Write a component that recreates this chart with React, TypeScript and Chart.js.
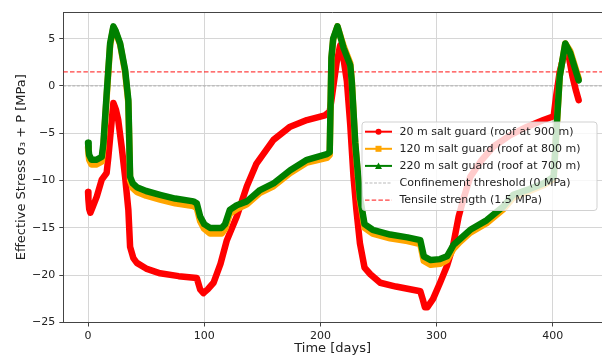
import React, { useEffect, useRef } from 'react';
import Chart from 'chart.js/auto';

// ---- axis ranges / ticks ----
const X_MIN = -21.3;
const X_MAX = 442.4;
const Y_MIN = -25;
const Y_MAX = 7.82;
const X_TICK_STEP = 100;
const Y_TICK_STEP = 5;

// ---- series (day, MPa) ----
const RED_20M: [number, number][] = [
  [0, -11.2], [0.3, -12.0], [1, -13.0], [2, -13.4], [4, -12.8], [7.5, -11.7], [11.8, -9.9], [16, -9.2],
  [17.5, -7.5], [19, -5.5], [21.8, -1.8], [24, -2.5], [26, -3.6], [29, -6.5], [31.9, -9.6], [34.7, -13.1],
  [36.2, -17.0], [39, -18.2], [42, -18.7], [50, -19.3], [62, -19.8], [78, -20.1], [93.6, -20.3], [96.5, -21.5],
  [99.3, -21.9], [103, -21.5], [108, -20.8], [114, -18.8], [119.5, -16.3], [128, -13.8], [136.7, -10.6],
  [145, -8.2], [159.6, -5.7], [174, -4.3], [188.4, -3.6], [204, -3.1], [208, -2.7], [209.5, -1.5], [214, 2.5],
  [217, 4.3], [220, 2.8], [222.8, 0.5], [225.7, -4.1], [228.5, -9.6], [231, -13.1], [234, -16.6],
  [238, -19.2], [243, -19.9], [251.5, -20.8], [265, -21.2], [286, -21.7], [288, -22.5], [290, -23.4],
  [292, -23.4], [297, -22.5], [303, -20.8], [309, -19.0], [314, -17.0], [319, -13.8], [323, -12.0],
  [329, -9.6], [339, -7.8], [349, -6.4], [363.5, -5.2], [378, -4.3], [392, -3.6], [400.8, -3.2], [403, -1.0],
  [406, 1.5], [410.8, 3.8], [414, 3.0], [417, 1.0], [420, -0.5], [422.3, -1.5],
];

const ORANGE_120M: [number, number][] = [
  [0, -6.5], [0.5, -7.3], [1, -7.8], [3, -8.3], [7, -8.3], [11.8, -8.0], [13.2, -6.5], [16.1, -1.0],
  [19, 4.3], [21.8, 6.2], [23.5, 5.8], [27.6, 4.4], [31.9, 1.5], [34.7, -1.8], [36.2, -10.0],
  [38.5, -10.8], [42, -11.2], [50, -11.6], [62, -12.0], [75, -12.4], [90.7, -12.7], [93.6, -12.9],
  [96.5, -14.3], [100, -15.1], [105, -15.6], [115, -15.6], [118, -15.1], [122, -13.5], [128, -13.0],
  [136.7, -12.5], [148, -11.3], [159.6, -10.6], [174, -9.2], [188.4, -8.1], [205.6, -7.6], [208, -7.3],
  [209.5, 2.8], [211, 4.9], [214.7, 6.3], [220, 4.2], [225.7, 2.4], [227, 0.6], [230, -6.2], [234, -12.0],
  [238, -15.0], [245, -15.6], [260, -16.1], [275, -16.4], [286, -16.7], [289, -18.5], [295, -18.9],
  [303, -18.8], [309, -18.4], [314.6, -17.2], [320, -16.5], [329, -15.5], [343, -14.5], [357.7, -13.0],
  [366, -11.8], [380, -11.1], [392, -10.5], [400.8, -9.8], [403, -5.2], [406, 1.0], [410.8, 4.5], [415, 3.7],
  [422.3, 0.8],
];

const GREEN_220M: [number, number][] = [
  [0, -6.0], [0.5, -6.8], [1, -7.3], [3, -7.8], [7, -7.8], [11.8, -7.5], [13.2, -6.1], [16.1, -0.7],
  [19, 4.5], [21.8, 6.3], [23.5, 5.9], [27.6, 4.5], [31.9, 1.7], [34.7, -1.5], [36.2, -9.6],
  [38.5, -10.3], [42, -10.7], [50, -11.1], [62, -11.5], [75, -11.9], [90.7, -12.2], [93.6, -12.4],
  [96.5, -13.8], [100, -14.6], [105, -15.0], [115, -15.0], [118, -14.6], [122, -13.1], [128, -12.6],
  [136.7, -12.2], [148, -11.0], [159.6, -10.3], [174, -8.9], [188.4, -7.8], [205.6, -7.2], [208, -7.0],
  [209.5, 3.0], [211, 5.0], [214.7, 6.3], [220, 4.0], [225.7, 2.2], [227, 0.5], [230, -6.0], [234, -11.7],
  [238, -14.6], [245, -15.2], [260, -15.7], [275, -16.0], [286, -16.3], [289, -18.0], [295, -18.4],
  [303, -18.3], [309, -18.0], [314.6, -16.8], [320, -16.2], [329, -15.2], [343, -14.2], [357.7, -12.7],
  [366, -11.5], [380, -10.9], [392, -10.3], [400.8, -9.6], [403, -5.0], [406, 1.0], [410.8, 4.5], [415, 3.5],
  [422.3, 0.6],
];

const CONFINEMENT_THRESHOLD = 0;
const TENSILE_STRENGTH = 1.5;

const LABELS = [
  '20 m salt guard (roof at 900 m)',
  '120 m salt guard (roof at 800 m)',
  '220 m salt guard (roof at 700 m)',
  'Confinement threshold (0 MPa)',
  'Tensile strength (1.5 MPa)',
];

const X_TITLE = 'Time [days]';
const Y_TITLE = 'Effective Stress σ₃ + P [MPa]';

const FONT = 'DejaVu Sans';
const RED = '#ff0000';
const ORANGE = '#ffa500';
const GREEN = '#008000';
const GRAY_DASH = 'rgba(128,128,128,0.55)';
const RED_DASH = 'rgba(255,0,0,0.75)';

const toPts = (arr: [number, number][]) => arr.map(([x, y]) => ({ x, y }));
const fmt = (v: number) => (v < 0 ? '\u2212' + Math.abs(v) : String(v));

const LEGEND_STYLE = [
  { color: RED, marker: 'circle', dash: [] as number[], width: 2 },
  { color: ORANGE, marker: 'square', dash: [] as number[], width: 2 },
  { color: GREEN, marker: 'triangle', dash: [] as number[], width: 2 },
  { color: GRAY_DASH, marker: '', dash: [3, 1.5], width: 1 },
  { color: RED_DASH, marker: '', dash: [4.5, 2.2], width: 1.3 },
];

const framePlugin = {
  id: 'mplFrame',
  afterDraw(chart: any) {
    const { ctx, chartArea } = chart;
    ctx.save();
    ctx.strokeStyle = '#444';
    ctx.lineWidth = 1;
    ctx.beginPath();
    ctx.moveTo(chartArea.left, chartArea.top + 0.5);
    ctx.lineTo(chartArea.right, chartArea.top + 0.5);
    ctx.stroke();

    // legend
    const x0 = 362, y0 = 122, w = 235, h = 88.5, r = 3;
    ctx.beginPath();
    ctx.moveTo(x0 + r, y0);
    ctx.lineTo(x0 + w - r, y0);
    ctx.arcTo(x0 + w, y0, x0 + w, y0 + r, r);
    ctx.lineTo(x0 + w, y0 + h - r);
    ctx.arcTo(x0 + w, y0 + h, x0 + w - r, y0 + h, r);
    ctx.lineTo(x0 + r, y0 + h);
    ctx.arcTo(x0, y0 + h, x0, y0 + h - r, r);
    ctx.lineTo(x0, y0 + r);
    ctx.arcTo(x0, y0, x0 + r, y0, r);
    ctx.closePath();
    ctx.fillStyle = 'rgba(255,255,255,0.8)';
    ctx.fill();
    ctx.strokeStyle = 'rgba(204,204,204,0.9)';
    ctx.lineWidth = 1;
    ctx.stroke();

    ctx.font = `11px "${FONT}"`;
    ctx.textBaseline = 'middle';
    ctx.textAlign = 'left';
    LABELS.forEach((label, i) => {
      const st = LEGEND_STYLE[i];
      const cy = y0 + 9.7 + i * 17.1;
      ctx.strokeStyle = st.color;
      ctx.lineWidth = st.width;
      ctx.setLineDash(st.dash);
      ctx.beginPath();
      ctx.moveTo(365, cy);
      ctx.lineTo(392, cy);
      ctx.stroke();
      ctx.setLineDash([]);
      const mx = 378.5;
      ctx.fillStyle = st.color;
      if (st.marker === 'circle') {
        ctx.beginPath();
        ctx.arc(mx, cy, 3, 0, Math.PI * 2);
        ctx.fill();
      } else if (st.marker === 'square') {
        ctx.fillRect(mx - 3, cy - 3, 6, 6);
      } else if (st.marker === 'triangle') {
        ctx.beginPath();
        ctx.moveTo(mx, cy - 3.5);
        ctx.lineTo(mx + 3.5, cy + 3);
        ctx.lineTo(mx - 3.5, cy + 3);
        ctx.closePath();
        ctx.fill();
      }
      ctx.fillStyle = '#222';
      ctx.fillText(label, 399.5, cy + 0.5);
    });
    ctx.restore();
  },
};

export default function App() {
  const ref = useRef<HTMLCanvasElement | null>(null);

  useEffect(() => {
    if (!ref.current) return;
    Chart.defaults.font.family = FONT;
    const seriesCommon = {
      borderWidth: 6.5,
      pointRadius: 0,
      tension: 0,
      borderJoinStyle: 'round' as const,
      borderCapStyle: 'round' as const,
      fill: false,
    };
    const chart = new Chart(ref.current, {
      type: 'line',
      data: {
        datasets: [
          { ...seriesCommon, label: LABELS[2], data: toPts(GREEN_220M), borderColor: GREEN, backgroundColor: GREEN, order: 0 },
          { ...seriesCommon, label: LABELS[1], data: toPts(ORANGE_120M), borderColor: ORANGE, backgroundColor: ORANGE, order: 1 },
          { ...seriesCommon, label: LABELS[0], data: toPts(RED_20M), borderColor: RED, backgroundColor: RED, order: 2 },
          {
            label: LABELS[3],
            data: [{ x: X_MIN, y: CONFINEMENT_THRESHOLD }, { x: X_MAX, y: CONFINEMENT_THRESHOLD }],
            borderColor: GRAY_DASH, borderWidth: 1, borderDash: [3, 1.5], pointRadius: 0, order: 4,
          },
          {
            label: LABELS[4],
            data: [{ x: X_MIN, y: TENSILE_STRENGTH }, { x: X_MAX, y: TENSILE_STRENGTH }],
            borderColor: RED_DASH, borderWidth: 1.3, borderDash: [4.5, 2.2], pointRadius: 0, order: 3,
          },
        ],
      },
      options: {
        animation: false,
        responsive: false,
        maintainAspectRatio: false,
        layout: { padding: { top: 12, left: 0, right: 0, bottom: 0 } },
        plugins: { legend: { display: false }, tooltip: { enabled: false } },
        scales: {
          x: {
            type: 'linear',
            min: X_MIN,
            max: X_MAX,
            afterFit: (s: any) => { s.height = 35.5; },
            ticks: {
              stepSize: X_TICK_STEP,
              includeBounds: false,
              color: '#222',
              padding: 3,
              font: { size: 11 },
              maxRotation: 0,
              callback: (v: any) => fmt(Number(v)),
            },
            grid: { color: '#d6d6d6', lineWidth: 1, tickLength: 4, tickColor: '#444' },
            border: { display: true, color: '#444', width: 1 },
            title: { display: true, text: X_TITLE, color: '#222', font: { size: 13 }, padding: { top: 0, bottom: 1.2 } },
          },
          y: {
            type: 'linear',
            min: Y_MIN,
            max: Y_MAX,
            afterFit: (s: any) => { s.width = 63.3; },
            ticks: {
              stepSize: Y_TICK_STEP,
              includeBounds: false,
              color: '#222',
              padding: 4,
              font: { size: 11 },
              callback: (v: any) => fmt(Number(v)),
            },
            grid: { color: '#d6d6d6', lineWidth: 1, tickLength: 4, tickColor: '#444' },
            border: { display: true, color: '#444', width: 1 },
            title: { display: true, text: Y_TITLE, color: '#222', font: { size: 13 }, padding: { top: 14, bottom: 0 } },
          },
        },
      },
      plugins: [framePlugin],
    } as any);
    return () => chart.destroy();
  }, []);

  return (
    <div style={{ position: 'absolute', left: 0, top: 0, width: 602, height: 358, background: '#fff' }}>
      <canvas ref={ref} width={602} height={358} style={{ width: 602, height: 358, display: 'block' }} />
    </div>
  );
}
